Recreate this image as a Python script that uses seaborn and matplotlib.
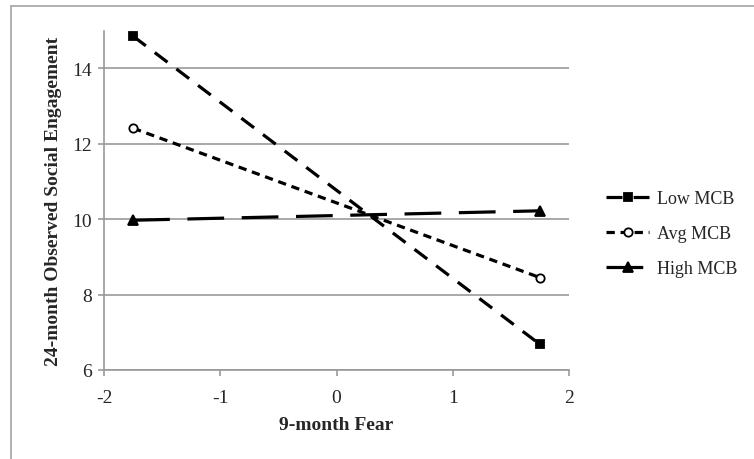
import matplotlib
matplotlib.use("Agg")
import matplotlib.pyplot as plt
import seaborn as sns
import pandas as pd
from matplotlib.lines import Line2D

fear = [-1.75, 1.75]
low_mcb = [14.85, 6.68]
avg_mcb = [12.41, 8.45]
high_mcb = [9.97, 10.22]
groups = ["Low MCB", "Avg MCB", "High MCB"]
x_ticks = [-2, -1, 0, 1, 2]
y_ticks = [6, 8, 10, 12, 14]

df = pd.DataFrame({
    "fear": fear * 3,
    "val": low_mcb + avg_mcb + high_mcb,
    "grp": [groups[0]] * 2 + [groups[1]] * 2 + [groups[2]] * 2,
})

sns.set_style("white")
plt.rcParams["font.family"] = ["Liberation Serif", "DejaVu Serif"]

fig = plt.figure(figsize=(7.54, 4.6), dpi=100)
ax = fig.add_axes([0.138, 0.1935, 0.6166, 0.738])

dashes = {"Low MCB": (5, 3.5), "Avg MCB": (2.6, 1.8), "High MCB": (11.5, 5.5)}
markers = {"Low MCB": "s", "Avg MCB": "o", "High MCB": "^"}
msizes = {"Low MCB": 6, "Avg MCB": 6, "High MCB": 7}
sns.lineplot(data=df, x="fear", y="val", hue="grp", style="grp",
             palette=["black"] * 3, dashes=dashes, markers=markers,
             markersize=6, linewidth=2.3, ax=ax, legend=False,
             markeredgecolor="black", markeredgewidth=1.3)
for line, g in zip(ax.get_lines(), groups):
    line.set_markersize(msizes[g])
    if g == "Avg MCB":
        line.set_markerfacecolor("white")

ax.set_xlim(-2, 2)
ax.set_ylim(6, 15)
ax.set_xticks(x_ticks)
ax.set_yticks(y_ticks)
ax.set_xticklabels([str(t) for t in x_ticks])
ax.set_yticklabels([str(t) for t in y_ticks])
ax.grid(axis="y", color="#999999", linewidth=1.2)
ax.grid(axis="x", visible=False)
for s in ["top", "right"]:
    ax.spines[s].set_visible(False)
for s in ["left", "bottom"]:
    ax.spines[s].set_color("#999999")
    ax.spines[s].set_linewidth(1.2)
ax.tick_params(axis="both", which="major", direction="out", length=4,
               width=1.2, color="#999999", labelsize=14, pad=5)
ax.tick_params(axis="x", bottom=True, pad=10)
ax.tick_params(axis="y", left=True)
ax.set_xlabel("9-month Fear", fontsize=14, fontweight="bold", labelpad=7)
ax.set_ylabel("24-month Observed Social Engagement", fontsize=14,
              fontweight="bold", labelpad=7)

handles = []
for g in groups:
    mfc = "white" if g == "Avg MCB" else "black"
    handles.append(Line2D([0], [0], color="black", linewidth=2.3,
                          dashes=dashes[g], marker=markers[g],
                          markersize=msizes[g], markerfacecolor=mfc,
                          markeredgecolor="black", markeredgewidth=1.3))
leg = fig.legend(handles, groups, loc="center left",
                 bbox_to_anchor=(0.782, 0.49), frameon=False,
                 fontsize=13, handlelength=2.4, labelspacing=1.0,
                 handletextpad=0.45, numpoints=1)

fig.add_artist(Line2D([11 / 754, 1.0], [1 - 7 / 460, 1 - 7 / 460],
                      color="#aaaaaa", linewidth=1.3, transform=fig.transFigure))
fig.add_artist(Line2D([11 / 754, 11 / 754], [0, 1 - 7 / 460],
                      color="#aaaaaa", linewidth=1.3, transform=fig.transFigure))

fig.savefig("out.png", dpi=100, facecolor="white")
